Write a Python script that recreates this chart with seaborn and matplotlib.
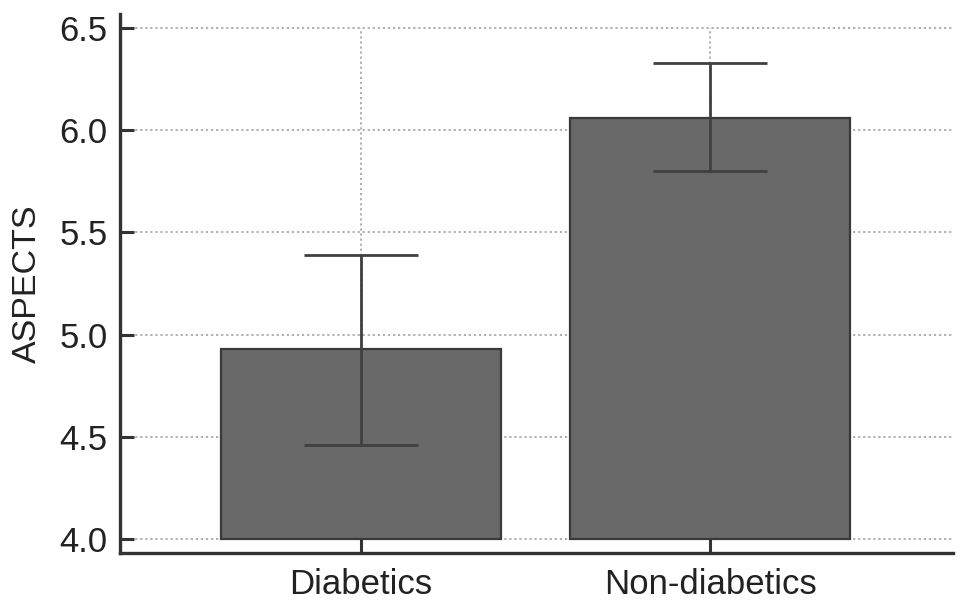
import matplotlib
matplotlib.use("Agg")
import matplotlib.pyplot as plt
import seaborn as sns
import pandas as pd

categories = ["Diabetics", "Non-diabetics"]
means = [4.93, 6.06]
err_low = [4.46, 5.80]
err_high = [5.39, 6.33]
y_ticks = [4.0, 4.5, 5.0, 5.5, 6.0, 6.5]

sns.set_theme(style="white")
plt.rcParams["font.family"] = ["Liberation Sans", "DejaVu Sans"]

df = pd.DataFrame({"group": categories, "value": means})

fig = plt.figure(figsize=(9.69, 6.03), dpi=100)
ax = fig.add_axes([0.1238, 0.0829, 0.8597, 0.8939])

base = 4.0
ax.hlines(y_ticks, -0.69, 1.696, colors="#a8a8a8", linestyles=(0, (1.2, 1.6)), linewidth=1.3, zorder=0)
ax.vlines(range(len(categories)), base, 6.5, colors="#a8a8a8", linestyles=(0, (1.2, 1.6)), linewidth=1.3, zorder=0)

df["height"] = df["value"] - base
sns.barplot(data=df, x="group", y="height", bottom=base, color="#686868",
            saturation=1, width=0.8, edgecolor="#3a3a3a", linewidth=1.6,
            errorbar=None, ax=ax, zorder=2)

yerr = [[m - lo for m, lo in zip(means, err_low)], [hi - m for m, hi in zip(means, err_high)]]
ax.errorbar(range(len(categories)), means, yerr=yerr, fmt="none", ecolor="#404040",
            elinewidth=2.0, capsize=41, capthick=2.0, zorder=3)

ax.set_xlim(-0.69, 1.696)
ax.set_ylim(3.931, 6.569)
ax.set_yticks(y_ticks)
ax.set_yticklabels([f"{t:.1f}" for t in y_ticks])
ax.set_xlabel("")
ax.set_ylabel("ASPECTS", fontsize=24.5, color="#222222", labelpad=12)

for s in ["top", "right"]:
    ax.spines[s].set_visible(False)
for s in ["left", "bottom"]:
    ax.spines[s].set_color("#333333")
    ax.spines[s].set_linewidth(2.4)

ax.tick_params(axis="both", direction="in", length=10, width=2.2, color="#333333",
               labelsize=25, labelcolor="#222222", left=True, bottom=True)
ax.tick_params(axis="y", pad=9)
ax.tick_params(axis="x", pad=11)

fig.savefig("out.png", dpi=100)
